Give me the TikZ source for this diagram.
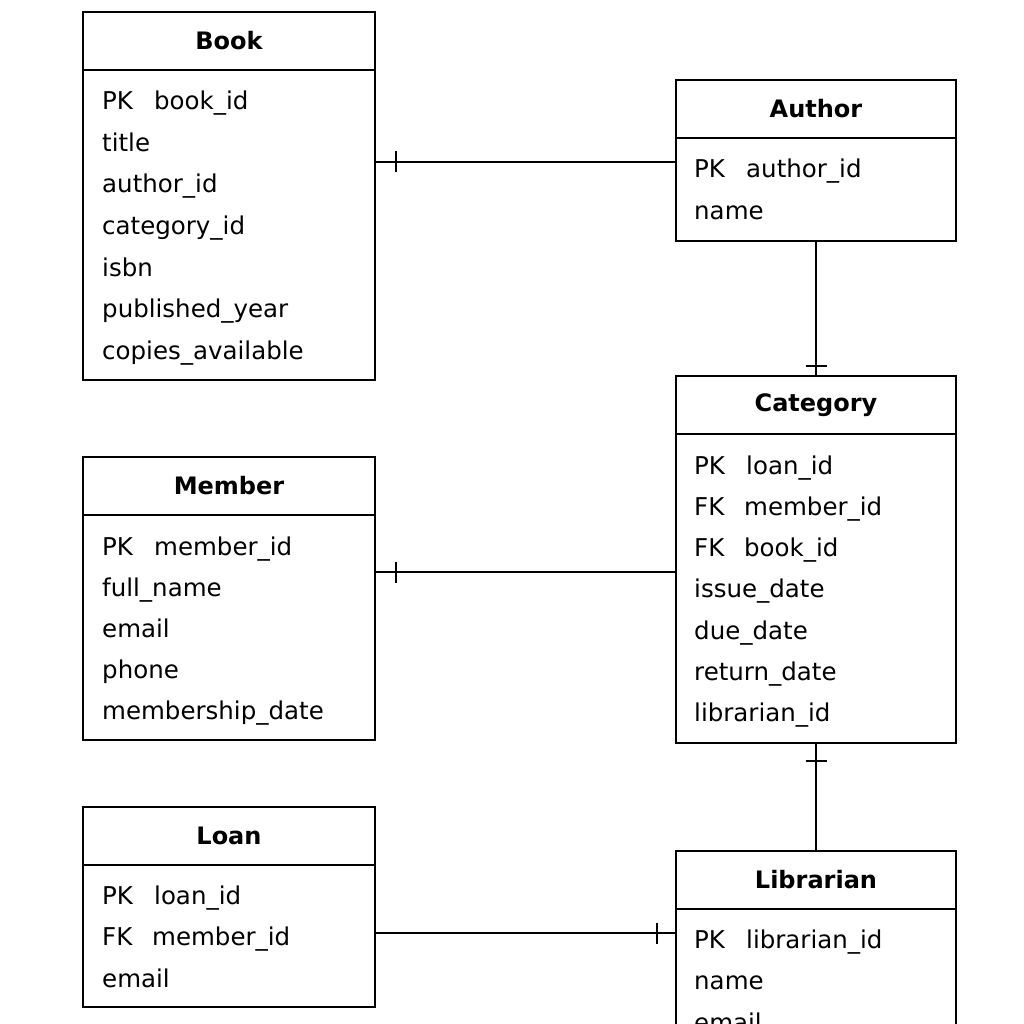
\documentclass[tikz,border=0pt]{standalone}
\usepackage{fontspec}
\setmainfont{DejaVu Sans}
\usetikzlibrary{decorations.markings}

\newcommand{\pkey}[1]{\makebox[52pt][l]{PK}#1}
\newcommand{\fkey}[1]{\makebox[50pt][l]{FK}#1}

\tikzset{
  head/.style={draw, line width=2pt, minimum height=58pt, inner sep=0pt, outer sep=0pt,
    font=\bfseries\fontsize{24}{28}\selectfont},
  body/.style={draw, line width=2pt, inner sep=0pt, outer sep=0pt, anchor=north},
  row/.style={anchor=base west, inner sep=0pt, font=\fontsize{24.5}{29}\selectfont},
  rel/.style={line width=2pt},
  onebar/.style={postaction={decorate, decoration={markings,
    mark=at position #1 with {\draw[line width=2.2pt] (0,-10.5pt) -- (0,10.5pt);}}}}
}

\begin{document}
\begin{tikzpicture}[x=1pt, y=-1pt]
    \clip (0,0) rectangle (1024,1024);
    \fill[white] (0,0) rectangle (1024,1024);

    % Book
    \node[head, minimum width=292pt] (book) at (229,41) {Book};
    \node[body, minimum width=292pt, minimum height=310pt] (bookbody) at (book.south) {};
    \foreach \field [count=\i] in {\pkey{book\_id}, title, author\_id, category\_id,
        isbn, published\_year, copies\_available}
        \node[row] (book-\i) at (102, 110+41.5*\i-41.5) {\field};

    % Author
    \node[head, minimum width=280pt] (author) at (816,109) {Author};
    \node[body, minimum width=280pt, minimum height=103pt] (authorbody) at (author.south) {};
    \foreach \field [count=\i] in {\pkey{author\_id}, name}
        \node[row] (author-\i) at (694, 178+42*\i-42) {\field};

    % Category
    \node[head, minimum width=280pt] (category) at (816,405) {Category};
    \node[body, minimum width=280pt, minimum height=309pt] (categorybody) at (category.south) {};
    \foreach \field [count=\i] in {\pkey{loan\_id}, \fkey{member\_id}, \fkey{book\_id},
        issue\_date, due\_date, return\_date, librarian\_id}
        \node[row] (category-\i) at (694, 474+41.3*\i-41.3) {\field};

    % Member
    \node[head, minimum width=292pt] (member) at (229,486) {Member};
    \node[body, minimum width=292pt, minimum height=225pt] (memberbody) at (member.south) {};
    \foreach \field [count=\i] in {\pkey{member\_id}, full\_name, email, phone,
        membership\_date}
        \node[row] (member-\i) at (102, 555+41*\i-41) {\field};

    % Loan
    \node[head, minimum width=292pt] (loan) at (229,836) {Loan};
    \node[body, minimum width=292pt, minimum height=142pt] (loanbody) at (loan.south) {};
    \foreach \field [count=\i] in {\pkey{loan\_id}, \fkey{member\_id}, email}
        \node[row] (loan-\i) at (102, 904+41.5*\i-41.5) {\field};

    % Librarian (runs off the page)
    \node[head, minimum width=280pt] (librarian) at (816,880) {Librarian};
    \node[body, minimum width=280pt, minimum height=200pt] (librarianbody) at (librarian.south) {};
    \foreach \field [count=\i] in {\pkey{librarian\_id}, name, email}
        \node[row] (librarian-\i) at (694, 948+41.5*\i-41.5) {\field};

    % Relationships
    \coordinate (ba) at (676,162);
    \coordinate (mc) at (676,572);
    \coordinate (ll) at (676,933);
    \draw[rel, onebar=21pt] (bookbody.east |- ba) -- (ba);
    \draw[rel, onebar=-10pt] (authorbody.south) -- (category.north);
    \draw[rel, onebar=21pt] (memberbody.east |- mc) -- (mc);
    \draw[rel, onebar=18pt] (categorybody.south) -- (librarian.north);
    \draw[rel, onebar=-19pt] (loanbody.east |- ll) -- (ll);

\end{tikzpicture}
\end{document}
